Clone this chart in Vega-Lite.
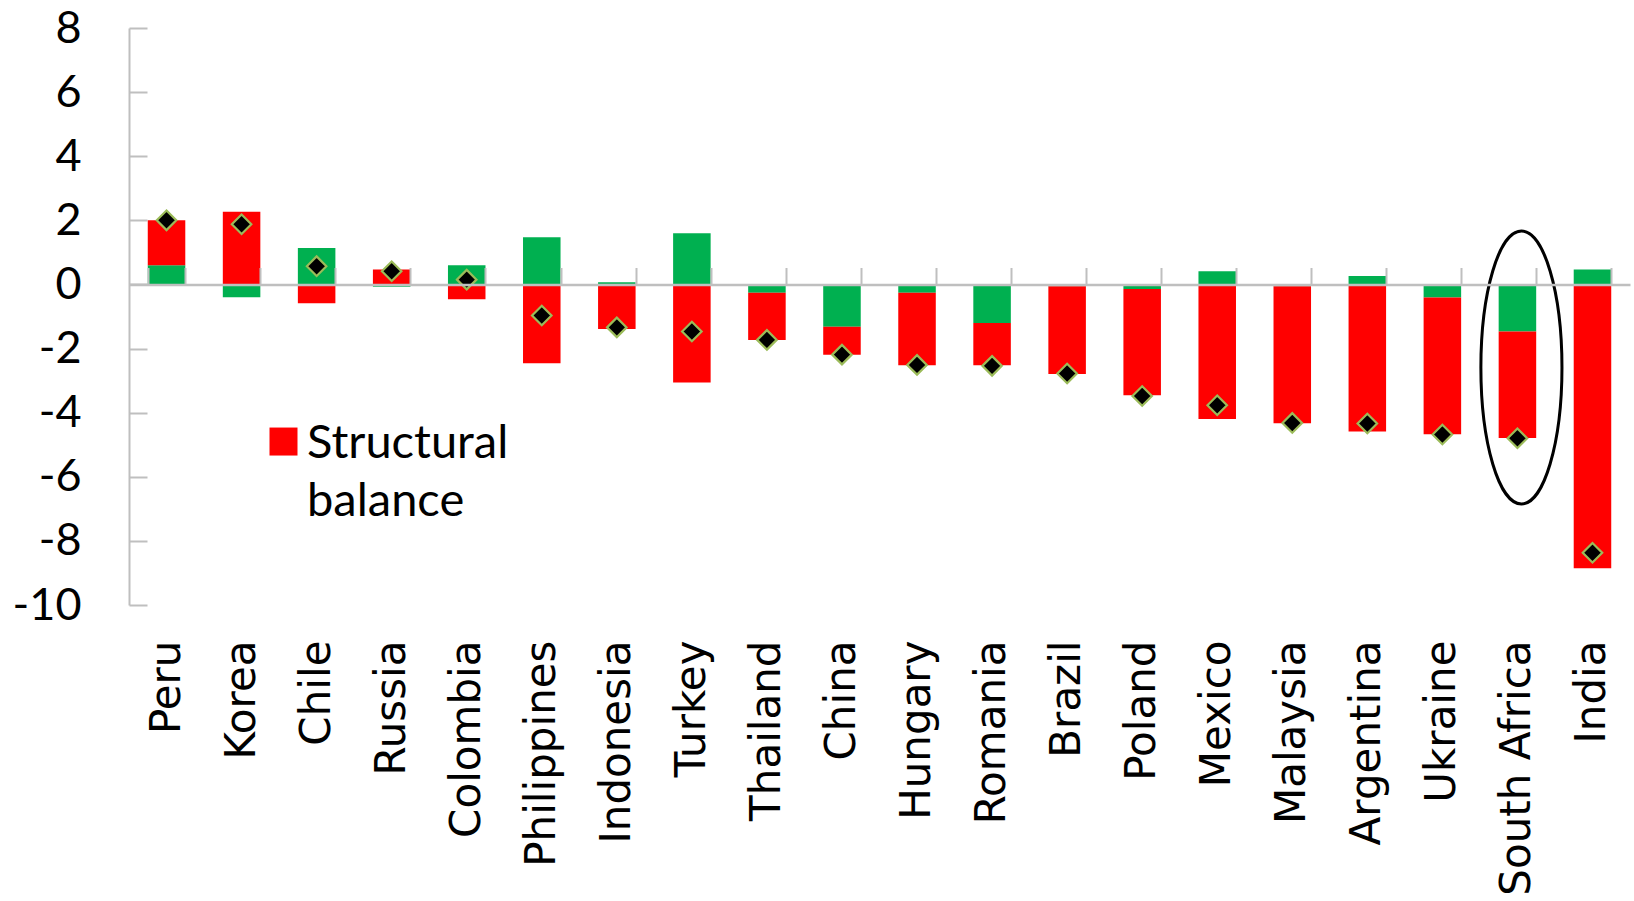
{
  "$schema": "https://vega.github.io/schema/vega-lite/v6.json",
  "autosize": "none",
  "padding": {"left": 129, "top": 28, "right": 4, "bottom": 296},
  "width": 1501,
  "height": 577,
  "background": "white",
  "config": {"view": {"stroke": null}},
  "datasets": {
    "bars": [
      {"country": "Peru", "component": "Cyclical balance", "value": 0.60},
      {"country": "Peru", "component": "Structural balance", "value": 1.40},
      {"country": "Korea", "component": "Cyclical balance", "value": -0.40},
      {"country": "Korea", "component": "Structural balance", "value": 2.27},
      {"country": "Chile", "component": "Cyclical balance", "value": 1.14},
      {"country": "Chile", "component": "Structural balance", "value": -0.59},
      {"country": "Russia", "component": "Cyclical balance", "value": -0.07},
      {"country": "Russia", "component": "Structural balance", "value": 0.47},
      {"country": "Colombia", "component": "Cyclical balance", "value": 0.60},
      {"country": "Colombia", "component": "Structural balance", "value": -0.46},
      {"country": "Philippines", "component": "Cyclical balance", "value": 1.47},
      {"country": "Philippines", "component": "Structural balance", "value": -2.46},
      {"country": "Indonesia", "component": "Cyclical balance", "value": 0.07},
      {"country": "Indonesia", "component": "Structural balance", "value": -1.39},
      {"country": "Turkey", "component": "Cyclical balance", "value": 1.60},
      {"country": "Turkey", "component": "Structural balance", "value": -3.06},
      {"country": "Thailand", "component": "Cyclical balance", "value": -0.26},
      {"country": "Thailand", "component": "Structural balance", "value": -1.47},
      {"country": "China", "component": "Cyclical balance", "value": -1.32},
      {"country": "China", "component": "Structural balance", "value": -0.87},
      {"country": "Hungary", "component": "Cyclical balance", "value": -0.26},
      {"country": "Hungary", "component": "Structural balance", "value": -2.26},
      {"country": "Romania", "component": "Cyclical balance", "value": -1.20},
      {"country": "Romania", "component": "Structural balance", "value": -1.32},
      {"country": "Brazil", "component": "Cyclical balance", "value": -0.06},
      {"country": "Brazil", "component": "Structural balance", "value": -2.73},
      {"country": "Poland", "component": "Cyclical balance", "value": -0.14},
      {"country": "Poland", "component": "Structural balance", "value": -3.32},
      {"country": "Mexico", "component": "Cyclical balance", "value": 0.41},
      {"country": "Mexico", "component": "Structural balance", "value": -4.20},
      {"country": "Malaysia", "component": "Cyclical balance", "value": -0.06},
      {"country": "Malaysia", "component": "Structural balance", "value": -4.27},
      {"country": "Argentina", "component": "Cyclical balance", "value": 0.26},
      {"country": "Argentina", "component": "Structural balance", "value": -4.59},
      {"country": "Ukraine", "component": "Cyclical balance", "value": -0.41},
      {"country": "Ukraine", "component": "Structural balance", "value": -4.26},
      {"country": "South Africa", "component": "Cyclical balance", "value": -1.47},
      {"country": "South Africa", "component": "Structural balance", "value": -3.32},
      {"country": "India", "component": "Cyclical balance", "value": 0.47},
      {"country": "India", "component": "Structural balance", "value": -8.85}
    ],
    "totals": [
      {"country": "Peru", "total": 2.00},
      {"country": "Korea", "total": 1.88},
      {"country": "Chile", "total": 0.57},
      {"country": "Russia", "total": 0.41},
      {"country": "Colombia", "total": 0.15},
      {"country": "Philippines", "total": -0.97},
      {"country": "Indonesia", "total": -1.34},
      {"country": "Turkey", "total": -1.47},
      {"country": "Thailand", "total": -1.73},
      {"country": "China", "total": -2.19},
      {"country": "Hungary", "total": -2.51},
      {"country": "Romania", "total": -2.54},
      {"country": "Brazil", "total": -2.78},
      {"country": "Poland", "total": -3.48},
      {"country": "Mexico", "total": -3.77},
      {"country": "Malaysia", "total": -4.32},
      {"country": "Argentina", "total": -4.34},
      {"country": "Ukraine", "total": -4.68},
      {"country": "South Africa", "total": -4.80},
      {"country": "India", "total": -8.37}
    ],
    "notes": [
      {"country": "South Africa", "center": -2.59}
    ]
  },
  "layer": [
    {
      "data": {"name": "bars"},
      "mark": {"type": "bar"},
      "encoding": {
        "x": {
          "field": "country", "type": "nominal",
          "sort": ["Peru","Korea","Chile","Russia","Colombia","Philippines","Indonesia","Turkey","Thailand","China","Hungary","Romania","Brazil","Poland","Mexico","Malaysia","Argentina","Ukraine","South Africa","India"],
          "scale": {"paddingInner": 0.5, "paddingOuter": 0.25},
          "axis": {
            "orient": "bottom", "title": null, "domain": false, "ticks": false,
            "labelAngle": -90, "labelFont": "DejaVu Sans", "labelFontSize": 42,
            "labelColor": "#000000", "labelPadding": 35, "labelLimit": 400
          }
        },
        "y": {
          "field": "value", "type": "quantitative", "stack": "zero",
          "scale": {"domain": [-10, 8], "nice": false, "zero": false},
          "axis": {
            "orient": "left", "title": null, "values": [-10,-8,-6,-4,-2,0,2,4,6,8],
            "labelExpr": "datum.value < 0 ? '-' + abs(datum.value) : '' + datum.value",
            "grid": false, "ticks": false, "domain": true,
            "domainColor": "#BFBFBF", "domainWidth": 2,
            "labelFont": "Lato", "labelFontSize": 45, "labelColor": "#000000",
            "labelPadding": 48
          }
        },
        "color": {
          "field": "component", "type": "nominal",
          "scale": {"domain": ["Structural balance", "Cyclical balance"], "range": ["#FF0000", "#00B050"]},
          "legend": {
            "title": null, "values": ["Structural balance"],
            "orient": "none", "legendX": 131, "legendY": 406,
            "padding": 0,
            "symbolType": "M-1,-2.14H1V-0.14H-1Z", "symbolSize": 784,
            "symbolStrokeWidth": 0, "symbolOpacity": 1,
            "labelExpr": "['Structural', 'balance']",
            "labelFont": "Lato", "labelFontSize": 47, "labelColor": "#000000",
            "labelBaseline": "alphabetic",
            "labelOffset": 0, "labelLimit": 400,
            "encode": {"labels": {"update": {"lineHeight": {"value": 58}}}}
          }
        },
        "order": {"field": "component", "sort": "ascending"}
      }
    },
    {
      "data": {"name": "totals"},
      "mark": {"type": "point", "shape": "diamond", "filled": true, "fill": "#000000", "stroke": "#9BBB59", "strokeWidth": 2.2, "size": 380, "opacity": 1},
      "encoding": {
        "x": {
          "field": "country", "type": "nominal",
          "sort": ["Peru","Korea","Chile","Russia","Colombia","Philippines","Indonesia","Turkey","Thailand","China","Hungary","Romania","Brazil","Poland","Mexico","Malaysia","Argentina","Ukraine","South Africa","India"],
          "axis": {
            "orient": "top", "offset": -256.5, "title": null, "labels": false,
            "domain": true, "domainColor": "#BFBFBF", "domainWidth": 2.5,
            "ticks": true, "tickBand": "extent", "tickSize": 17, "tickWidth": 2, "tickColor": "#BFBFBF",
            "grid": false, "zindex": 1
          }
        },
        "y": {
          "field": "total", "type": "quantitative",
          "axis": {
            "orient": "right", "offset": -1501, "title": null, "labels": false,
            "domain": false, "grid": false, "values": [-10,-8,-6,-4,-2,0,2,4,6,8],
            "ticks": true, "tickSize": 18, "tickWidth": 2, "tickColor": "#BFBFBF"
          }
        }
      }
    },
    {
      "data": {"name": "notes"},
      "mark": {
        "type": "point", "filled": false, "stroke": "#000000", "strokeWidth": 3, "opacity": 1,
        "shape": "M0,-1C0.164,-1,0.297,-0.552,0.297,0C0.297,0.552,0.164,1,0,1C-0.164,1,-0.297,0.552,-0.297,0C-0.297,-0.552,-0.164,-1,0,-1Z",
        "size": 74529, "xOffset": 4
      },
      "encoding": {
        "x": {"field": "country", "type": "nominal", "axis": null,
          "sort": ["Peru","Korea","Chile","Russia","Colombia","Philippines","Indonesia","Turkey","Thailand","China","Hungary","Romania","Brazil","Poland","Mexico","Malaysia","Argentina","Ukraine","South Africa","India"]},
        "y": {"field": "center", "type": "quantitative", "axis": null}
      }
    }
  ],
  "resolve": {"axis": {"x": "independent", "y": "independent"}}
}
